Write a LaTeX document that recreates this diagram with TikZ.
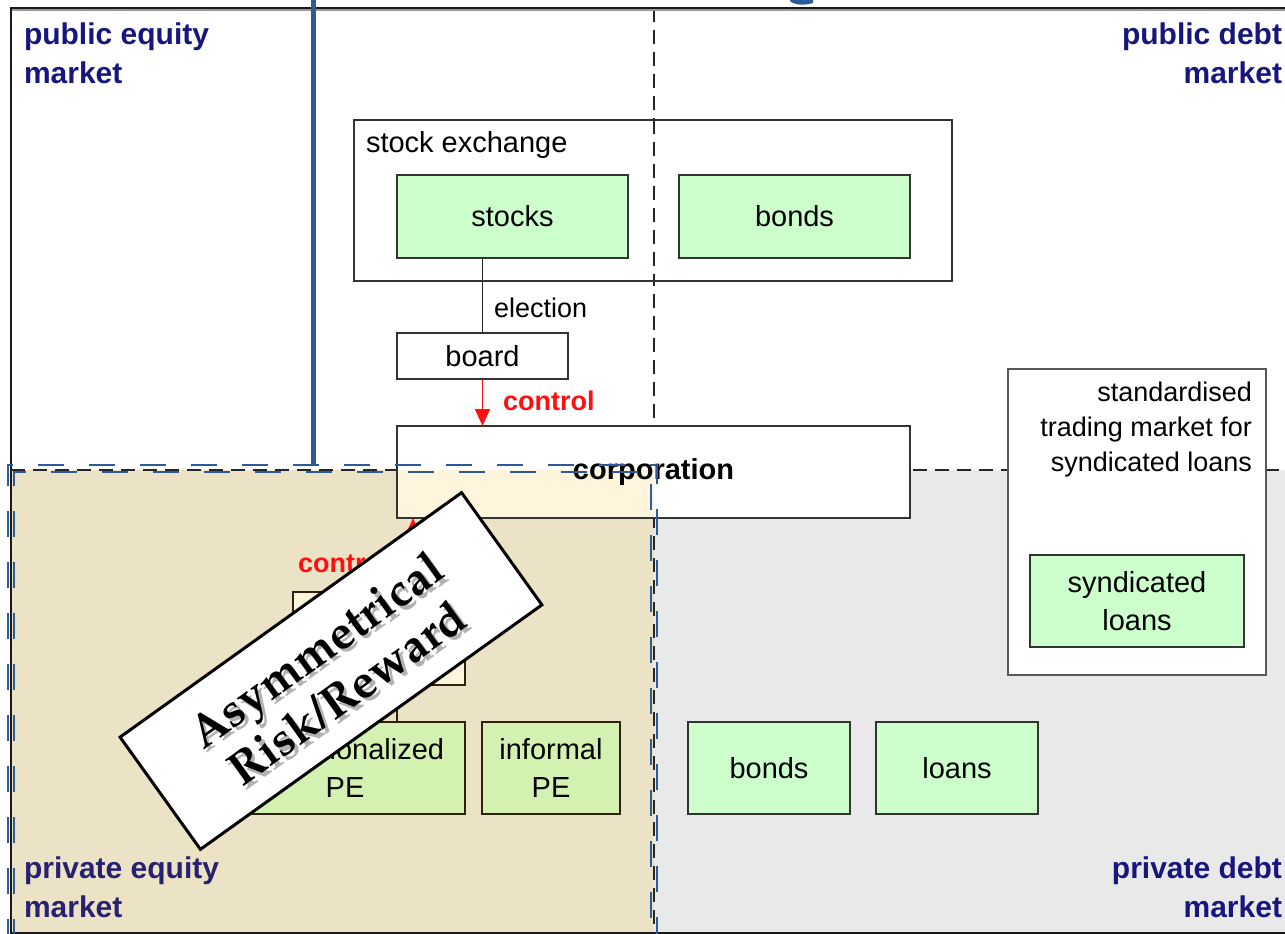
\documentclass[tikz,border=0pt]{standalone}
\usepackage[T1]{fontenc}
\usepackage{fontspec}
\setmainfont{Liberation Sans}
\usetikzlibrary{arrows.meta}
\newcommand\fsb{\fontsize{29}{38}\selectfont}
\newcommand\fss{\fontsize{27}{35}\selectfont}
\newcommand\fsq{\fontsize{30}{38}\selectfont\bfseries}
\newcommand\palfont{\fontencoding{T1}\fontfamily{ppl}\fontseries{b}\fontshape{n}\fontsize{47}{53}\selectfont}
\definecolor{grnc}{HTML}{CCFFCC}
\definecolor{grnb}{HTML}{D3F2B2}
\definecolor{beige}{HTML}{ECE2C6}
\definecolor{cream}{HTML}{FFF4DC}
\definecolor{lgray}{HTML}{E9E9E9}
\definecolor{navyt}{HTML}{16167F}
\definecolor{navyb}{HTML}{262270}
\definecolor{blueln}{HTML}{2C5A9A}
\definecolor{redc}{HTML}{FF1010}
\begin{document}
\begin{tikzpicture}[x=1pt,y=-1pt,
  every node/.style={inner sep=0pt, outer sep=0pt},
  bx/.style={draw=black!80, line width=1.3pt, align=center, font=\fsb},
  grnbox/.style={bx, fill=grnc},
  grnbbox/.style={draw=black!75!brown, line width=1.3pt, align=center, font=\fsb, fill=grnb},
  quad/.style={font=\fsq, text=navyt},
  quadb/.style={font=\fsq, text=navyb},
  blkdash/.style={draw=black!85, line width=1.5pt, dash pattern=on 14pt off 8pt},
  bluedash/.style={draw=blueln, line width=2.6pt, dash pattern=on 26pt off 25pt},
  redarr/.style={draw=redc, line width=1.5pt, -{Triangle[width=15pt,length=17pt]}, redc},
  redlbl/.style={font=\fss\bfseries, text=redc},
  lbltext/.style={font=\palfont, align=center, rotate=35.6},
  lblshadow/.style={lbltext, text=black, opacity=0.3}
]
\useasboundingbox (0,0) rectangle (1285,934);
\fill[white] (0,0) rectangle (1285,934);
% quadrant fills
\fill[beige] (11,470) rectangle (654,934);
\fill[lgray] (654,470) rectangle (1285,934);
% quadrant separator lines
\coordinate (vt) at (654,8);
\coordinate (vb) at (654,934);
\coordinate (hl) at (11,470);
\coordinate (hr) at (1285,470);
\draw[blkdash] (vt) -- (vb);
\draw[blkdash] (hl) -- (hr);
% outer frame
\draw[black!40, line width=2pt] (12,10.5) -- (1285,10.5);
\draw[black!90, line width=2.5pt] (1290,8) -- (11,8) -- (11,933) -- (1290,933);

% public side
\node[draw=black!80, line width=1.3pt, fill=white, minimum width=598pt, minimum height=161pt] (sx) at (653,200.5) {};
\draw[blkdash] (sx.north -| vt) -- (sx.south -| vt);
\node[anchor=base west, font=\fsb] (sxl) at (366,152) {stock exchange};
\node[grnbox, minimum width=231pt, minimum height=83pt] (stocks) at (512.5,216.5) {stocks};
\node[grnbox, minimum width=231pt, minimum height=83pt] (bondsp) at (794.5,216.5) {bonds};
\node[bx, fill=white, minimum width=171pt, minimum height=46pt] (board) at (482.5,356) {board};
\draw[black!85, line width=1.3pt] (board.north |- stocks.south) -- (board.north);
\node[anchor=base west, font=\fss] (elec) at (494,317) {election};

% corporation
\fill[white] (397,425) rectangle (910,517);
\fill[cream] (397,470) rectangle (654,517);
\node[bx, font=\fsb\bfseries, minimum width=513pt, minimum height=92pt] (corp) at (653.5,472) {corporation};
\draw[redarr] (board.south) -- (board.south |- corp.north);
\node[redlbl, anchor=base west] (ctrl1) at (503,410) {control};

% syndicated loans market
\node[bx, draw=black!65, fill=white, minimum width=258pt, minimum height=306pt] (std) at (1137,522) {};
\node[anchor=north east, align=right, font=\fss] (stdl) at (1252,382) {standardised\\trading market for\\syndicated loans};
\node[grnbox, minimum width=214pt, minimum height=92pt] (synd) at (1137,601) {syndicated\\loans};

% private debt
\node[grnbox, minimum width=162pt, minimum height=92pt] (bondsd) at (769,768) {bonds};
\node[grnbox, minimum width=162pt, minimum height=92pt] (loans) at (957,768) {loans};

% private equity
\node[draw=black!75!brown, line width=1.3pt, fill=cream, minimum width=172pt, minimum height=93pt] (pebox) at (379,638.5) {};
\coordinate (ca) at (413,592);
\draw[redarr] (ca) -- (ca |- corp.south);
\node[redlbl, anchor=base west] (ctrl2) at (298,572) {control};
\node[grnbbox, minimum width=240pt, minimum height=92pt] (inst) at (345,768) {institutionalized\\PE};
\node[grnbbox, minimum width=138pt, minimum height=92pt] (inf) at (551,768) {informal\\PE};
\coordinate (cl) at (397,685);
\draw[black!75!brown, line width=1.3pt] (cl) -- (cl |- inst.north);

% blue dashed double frame
\draw[bluedash] (8,945) -- (8,465) -- (657,465) -- (657,945);
\draw[bluedash] (14,945) -- (14,472) -- (651,472) -- (651,945);
% blue solid line
\coordinate (bt) at (313,-5);
\coordinate (bb) at (313,466);
\draw[blueln, line width=5pt] (bt) -- (bb);
\fill[blueln] (790,-1) -- (813,-1) -- (813,3) .. controls (805,5.5) and (795,5.5) .. (790,1) -- cycle;

% rotated label
\node[draw=black, line width=3pt, fill=white, rotate=35.6, minimum width=420pt, minimum height=138pt] (lbl) at (331,671) {};
\node[lblshadow] (lblsh) at (334.5,674.5) {Asymmetrical\\Risk/Reward};
\node[lbltext] (lbltx) at (331,671) {Asymmetrical\\Risk/Reward};

% quadrant labels
\node[quad, anchor=base west] (pe1) at (24,45) {public equity};
\node[quad, anchor=base west] (pe2) at (24,83) {market};
\node[quad, anchor=base east] (pd1) at (1282,45) {public debt};
\node[quad, anchor=base east] (pd2) at (1282,83) {market};
\node[quadb, anchor=base west] (qe1) at (24,878) {private equity};
\node[quadb, anchor=base west] (qe2) at (24,917) {market};
\node[quad, anchor=base east] (qd1) at (1282,878) {private debt};
\node[quad, anchor=base east] (qd2) at (1282,917) {market};
\end{tikzpicture}
\end{document}
